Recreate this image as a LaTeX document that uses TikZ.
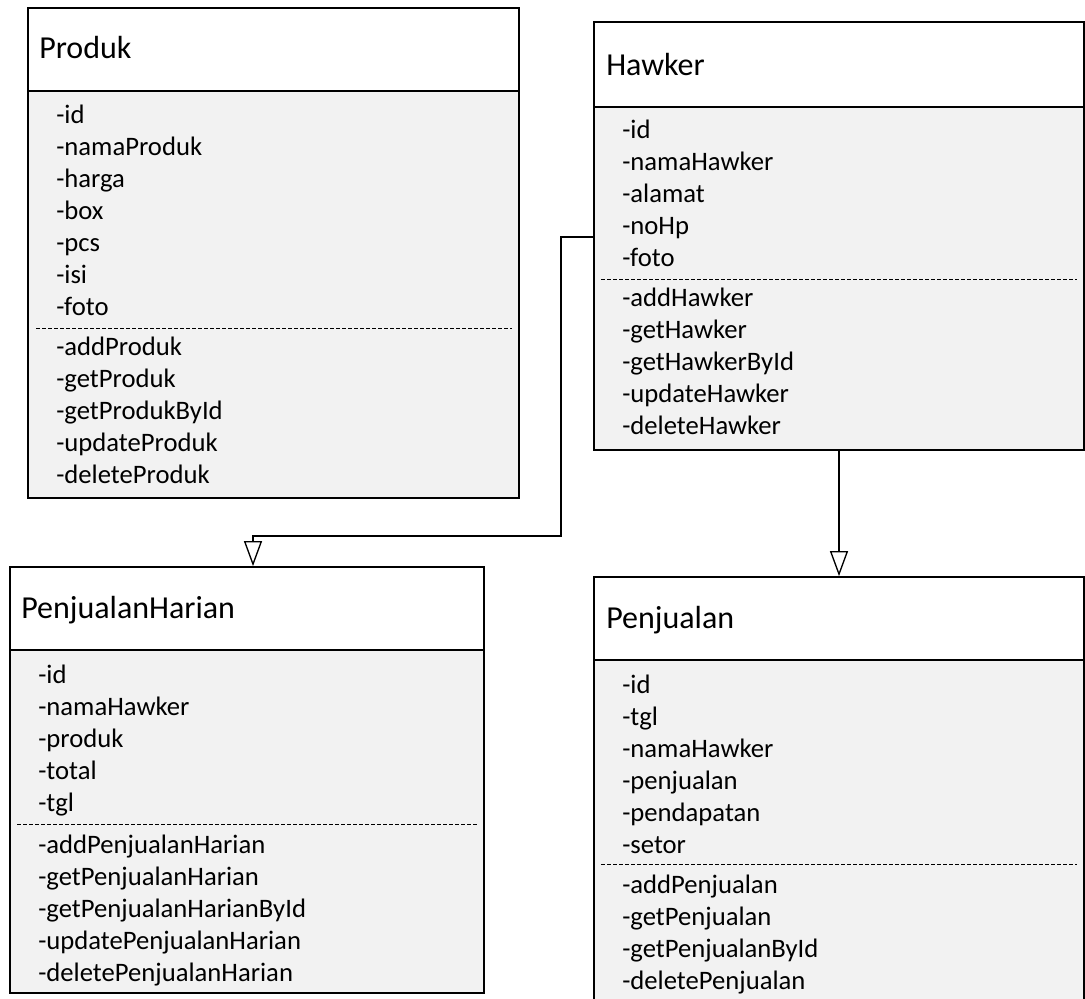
\documentclass[tikz,border=0pt]{standalone}
\usepackage{fontspec}
\setmainfont{Carlito}
\usetikzlibrary{fit,arrows.meta}
\definecolor{bodygray}{HTML}{F2F2F2}
\begin{document}
\begin{tikzpicture}[x=.75pt,y=-.75pt,
  head/.style={draw,line width=1.3pt,fill=white,inner sep=0pt},
  body/.style={draw,line width=1.3pt,fill=bodygray,inner sep=0pt},
  cname/.style={anchor=base west,inner sep=0pt,font=\fontsize{24}{29}\selectfont},
  item/.style={anchor=base west,inner sep=0pt,font=\fontsize{20}{24}\selectfont},
  sep/.style={dash pattern=on 3pt off 1.5pt,line width=.6pt},
  gen/.style={line width=1pt,-{Triangle[open,length=18.75pt,width=13.5pt]}}]
\useasboundingbox (0,0) rectangle (1085,999);\clip (0,0) rectangle (1085,999);
% Produk
\node[head,fit={(28,8)(519,91)}] (produk) {};\node[body,fit={(28,91)(519,498)}] (produkbody) {};
\node[cname] (produktitle) at (39,59) {Produk};
\foreach \t [count=\i] in {-id,-namaProduk,-harga,-box,-pcs,-isi,-foto}{\node[item] (pa\i) at (56,91+32*\i) {\t};}
\draw[sep] (36,328)--(512,328);
\foreach \t [count=\i] in {-addProduk,-getProduk,-getProdukById,-updateProduk,-deleteProduk}{\node[item] (pm\i) at (56,323+32*\i) {\t};}
% Hawker
\node[head,fit={(594,22)(1084,107)}] (hawker) {};\node[body,fit={(594,107)(1084,450)}] (hawkerbody) {};
\node[cname] (hawkertitle) at (606,75) {Hawker};
\foreach \t [count=\i] in {-id,-namaHawker,-alamat,-noHp,-foto}{\node[item] (ha\i) at (622,106+32*\i) {\t};}
\draw[sep] (601,279)--(1077,279);
\foreach \t [count=\i] in {-addHawker,-getHawker,-getHawkerById,-updateHawker,-deleteHawker}{\node[item] (hm\i) at (622,274+32*\i) {\t};}
% PenjualanHarian
\node[head,fit={(10,567)(484,650)}] (harian) {};\node[body,fit={(10,650)(484,993)}] (harianbody) {};
\node[cname] (hariantitle) at (21,618) {PenjualanHarian};
\foreach \t [count=\i] in {-id,-namaHawker,-produk,-total,-tgl}{\node[item] (ja\i) at (38,651+32*\i) {\t};}
\draw[sep] (17,824)--(477,824);
\foreach \t [count=\i] in {-addPenjualanHarian,-getPenjualanHarian,-getPenjualanHarianById,-updatePenjualanHarian,-deletePenjualanHarian}{\node[item] (jm\i) at (38,821+32*\i) {\t};}
% Penjualan
\node[head,fit={(594,577)(1084,660)}] (penjualan) {};\node[body,fit={(594,660)(1084,1015)}] (penjualanbody) {};
\node[cname] (penjualantitle) at (606,628) {Penjualan};
\foreach \t [count=\i] in {-id,-tgl,-namaHawker,-penjualan,-pendapatan,-setor}{\node[item] (sa\i) at (622,661+32*\i) {\t};}
\draw[sep] (601,864)--(1077,864);
\foreach \t [count=\i] in {-addPenjualan,-getPenjualan,-getPenjualanById,-deletePenjualan}{\node[item] (sm\i) at (622,861+32*\i) {\t};}
% generalisation
\coordinate (bend) at (561,536);
\draw[gen] (hawkerbody.west |- 0,237) -| (bend) -| ([xshift=4.5pt]harian.north);
\draw[gen] (hawkerbody.south)--(penjualan.north);
\end{tikzpicture}
\end{document}
